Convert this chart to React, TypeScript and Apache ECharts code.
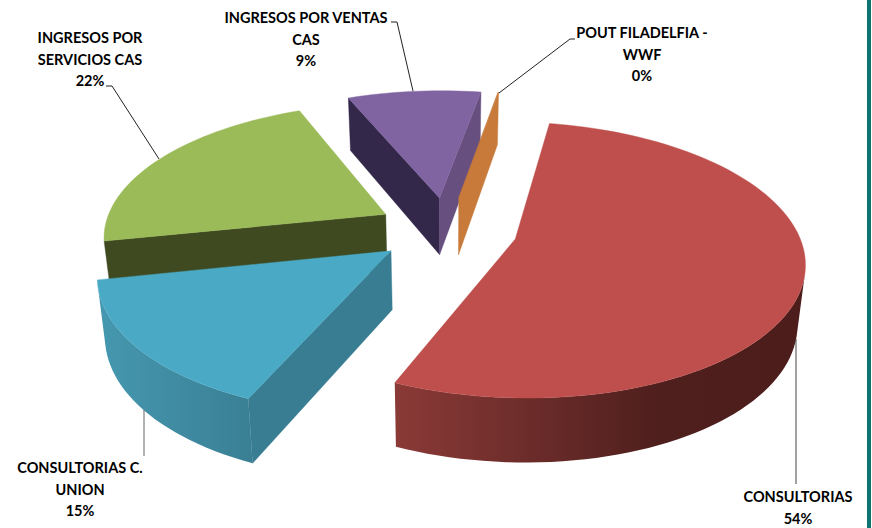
import React, { useEffect, useRef } from "react";
import * as echarts from "echarts";

const categories = [
  "CONSULTORIAS",
  "CONSULTORIAS C.\nUNION",
  "INGRESOS POR\nSERVICIOS CAS",
  "INGRESOS POR VENTAS\nCAS",
  "POUT FILADELFIA -\nWWF",
];
const values = [53.75, 15.25, 22, 9, 0.05];

const topColors = ["#BE4F4C", "#4AAAC5", "#9BBB59", "#8064A2", "#C77A3A"];
const startWallColors = ["#8A3A37", "#387D92", "#404A20", "#33274A", "#C77A3A"];
const endWallColors = ["#8A3A37", "#387D92", "#404A20", "#674F80", "#C77A3A"];
const arcWallStops: [number, string][][] = [
  [[0, "#8A3A37"], [0.65, "#4E1F1D"], [1, "#4C1D1B"]],
  [[0, "#4598B0"], [1, "#3A7F94"]],
  [[0, "#55662E"], [1, "#404A20"]],
  [[0, "#33274A"], [1, "#33274A"]],
  [[0, "#C77A3A"], [1, "#C77A3A"]],
];

const CX = 447;
const CY = 229.5;
const K = 282;
const TILT = 0.468;
const PERSPECTIVE = 0.15;
const DEPTH = 58;
const DEPTH_POWER = 0.6;
const CONVERGE = 0.978;
const EXPLODE = 0.25;
const START_DEG = 10;

const RAD = Math.PI / 180;
const total = values.reduce((a, b) => a + b, 0);

const project = (X: number, Y: number, bottom: boolean): number[] => {
  const s = 1 / (1 - PERSPECTIVE * Y);
  let x = CX + K * X * s;
  let y = CY + K * TILT * Y * s;
  if (bottom) {
    x = CX + (x - CX) * CONVERGE;
    y += DEPTH * Math.pow(s, DEPTH_POWER);
  }
  return [x, y];
};

const shoelace = (p: number[][]) => {
  let a = 0;
  for (let i = 0; i < p.length; i++) {
    const q = p[(i + 1) % p.length];
    a += p[i][0] * q[1] - q[0] * p[i][1];
  }
  return a;
};

let running = START_DEG;
const rows = values.map((v, i) => {
  const sweep = (v / total) * 360;
  const row = { index: i, value: [v, running, sweep, i] };
  running += sweep;
  return row;
});
const drawRows = [...rows].sort((a, b) => {
  const ya = -Math.cos((a.value[1] + a.value[2] / 2) * RAD);
  const yb = -Math.cos((b.value[1] + b.value[2] / 2) * RAD);
  return ya - yb;
});

const renderSlice = (_params: any, api: any) => {
  const start = api.value(1) as number;
  const sweep = api.value(2) as number;
  const i = api.value(3) as number;
  const mid = (start + sweep / 2) * RAD;
  const ox = Math.sin(mid) * EXPLODE;
  const oy = -Math.cos(mid) * EXPLODE;
  const steps = Math.max(2, Math.ceil(sweep / 2));
  const rim: number[][] = [];
  for (let n = 0; n <= steps; n++) {
    const a = (start + (sweep * n) / steps) * RAD;
    rim.push([ox + Math.sin(a), oy - Math.cos(a)]);
  }
  const top = rim.map((p) => project(p[0], p[1], false));
  const low = rim.map((p) => project(p[0], p[1], true));
  const apexTop = project(ox, oy, false);
  const apexLow = project(ox, oy, true);

  const children: any[] = [];
  const poly = (points: number[][], fill: any) => ({
    type: "polygon",
    shape: { points },
    style: { fill, stroke: typeof fill === "string" ? fill : undefined, lineWidth: 0.4 },
    silent: true,
  });

  const startQuad = [apexTop, top[0], low[0], apexLow];
  if (shoelace(startQuad) < 0) children.push(poly(startQuad, startWallColors[i]));
  const last = steps;
  const endQuad = [top[last], apexTop, apexLow, low[last]];
  if (shoelace(endQuad) < 0) children.push(poly(endQuad, endWallColors[i]));

  const runTop: number[][] = [];
  const runLow: number[][] = [];
  for (let n = 0; n < steps; n++) {
    const quad = [top[n], top[n + 1], low[n + 1], low[n]];
    if (shoelace(quad) < 0) {
      if (!runTop.length) {
        runTop.push(top[n]);
        runLow.push(low[n]);
      }
      runTop.push(top[n + 1]);
      runLow.push(low[n + 1]);
    }
  }
  if (runTop.length) {
    const grad = new echarts.graphic.LinearGradient(
      0, 0, 1, 0,
      arcWallStops[i].map(([offset, color]) => ({ offset, color }))
    );
    children.push(poly([...runTop, ...[...runLow].reverse()], grad));
  }

  children.push(poly([apexTop, ...top], topColors[i]));
  return { type: "group", children };
};

const labelText = (i: number) =>
  `${categories[i]}\n${Math.round((values[i] / total) * 100)}%`;

const FONT = { fontFamily: "Lato", fontWeight: 700, fontSize: 14.5, lineHeight: 21.5 };

const labelSpots = [
  { i: 0, x: 798, y: 486 },
  { i: 1, x: 80, y: 457 },
  { i: 2, x: 90, y: 27 },
  { i: 3, x: 306, y: 7 },
  { i: 4, x: 642, y: 22 },
];

const leaders: { points: number[][]; stroke: string }[] = [
  { points: [[796, 339], [796, 484]], stroke: "#444" },
  { points: [[144, 410], [144, 456]], stroke: "#666" },
  { points: [[106, 86], [112, 86], [159, 159]], stroke: "#222" },
  { points: [[391, 22], [397, 22], [413, 91]], stroke: "#222" },
  { points: [[575, 39], [570, 39], [499, 93]], stroke: "#222" },
];

export default function App() {
  const ref = useRef<HTMLDivElement>(null);
  useEffect(() => {
    document.body.style.margin = "0";
    const chart = echarts.init(ref.current!, undefined, { renderer: "svg" });
    chart.setOption({
      animation: false,
      backgroundColor: "#FFFFFF",
      series: [
        {
          type: "custom",
          coordinateSystem: "none",
          renderItem: renderSlice,
          silent: true,
          data: drawRows.map((r) => ({ value: r.value, name: categories[r.index] })),
          z: 2,
        },
      ],
      graphic: [
        {
          type: "rect",
          z: 1,
          silent: true,
          shape: { x: 867, y: 0, width: 4, height: 528 },
          style: { fill: "#0F7370" },
        },
        ...leaders.map((l) => ({
          type: "polyline",
          z: 5,
          silent: true,
          shape: { points: l.points },
          style: { stroke: l.stroke, lineWidth: 1, fill: "none" },
        })),
        ...labelSpots.map((s) => ({
          type: "text",
          z: 6,
          silent: true,
          x: s.x,
          y: s.y,
          style: {
            text: labelText(s.i),
            align: "center",
            verticalAlign: "top",
            fill: "#000000",
            ...FONT,
          },
        })),
      ],
    });
    return () => chart.dispose();
  }, []);
  return (
    <div
      ref={ref}
      style={{ position: "absolute", left: 0, top: 0, width: 872, height: 528 }}
    />
  );
}
